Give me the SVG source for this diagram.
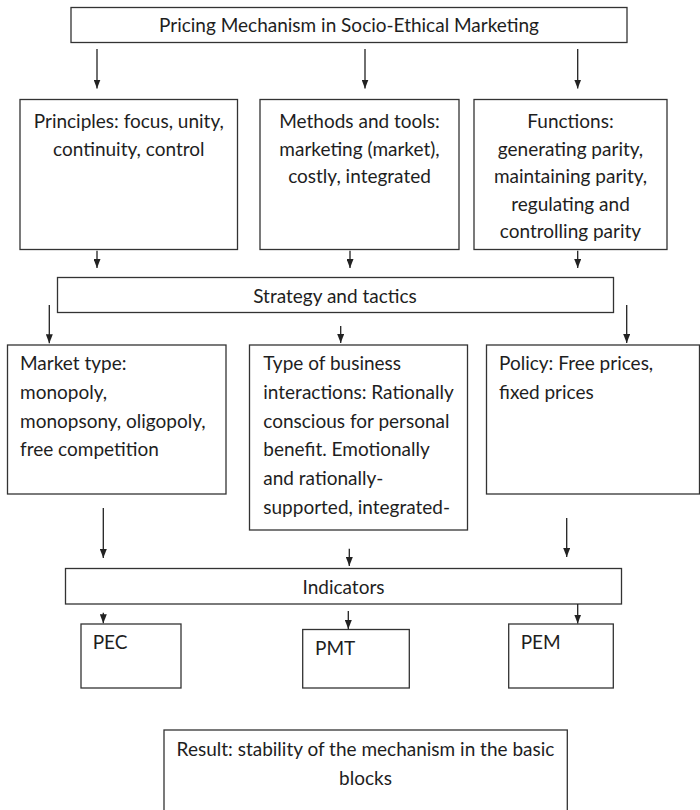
<svg xmlns="http://www.w3.org/2000/svg" width="700" height="810" viewBox="0 0 700 810">
<style>
.box{fill:#fff;stroke:#333;stroke-width:1.3}
.t{font-family:Lato,"Liberation Sans",sans-serif;font-size:19px;fill:#1e1e1e}
.c{text-anchor:middle}
.ar{stroke:#222;stroke-width:1.3;fill:none;marker-end:url(#ah)}
</style>
<defs>
<marker id="ah" viewBox="0 0 9 7" refX="9" refY="3.5" markerWidth="9" markerHeight="7" markerUnits="userSpaceOnUse" orient="auto">
<path d="M0,0 L9,3.5 L0,7 z" fill="#222"/>
</marker>
</defs>
<rect width="700" height="810" fill="#fff"/>
<g id="title">
<rect class="box" x="71" y="7.5" width="556" height="35"/>
<text class="t c" x="349" y="32">Pricing Mechanism in Socio-Ethical Marketing</text>
</g>
<g id="principles">
<rect class="box" x="20" y="99.5" width="217.5" height="150"/>
<text class="t c" x="128.8" y="128">Principles: focus, unity,</text>
<text class="t c" x="128.8" y="155.5">continuity, control</text>
</g>
<g id="methods">
<rect class="box" x="260" y="99.5" width="199" height="150"/>
<text class="t c" x="359.5" y="128">Methods and tools:</text>
<text class="t c" x="359.5" y="155.5">marketing (market),</text>
<text class="t c" x="359.5" y="183">costly, integrated</text>
</g>
<g id="functions">
<rect class="box" x="474" y="99.5" width="193" height="150"/>
<text class="t c" x="570.5" y="128">Functions:</text>
<text class="t c" x="570.5" y="155.5">generating parity,</text>
<text class="t c" x="570.5" y="183">maintaining parity,</text>
<text class="t c" x="570.5" y="210.5">regulating and</text>
<text class="t c" x="570.5" y="238">controlling parity</text>
</g>
<g id="strategy">
<rect class="box" x="57.5" y="277.5" width="556" height="35"/>
<text class="t c" x="335" y="302.5">Strategy and tactics</text>
</g>
<g id="market">
<rect class="box" x="7.5" y="345" width="218.5" height="149"/>
<text class="t" x="20" y="370">Market type:</text>
<text class="t" x="20" y="398.8">monopoly,</text>
<text class="t" x="20" y="427.6">monopsony, oligopoly,</text>
<text class="t" x="20" y="456.4">free competition</text>
</g>
<g id="business">
<rect class="box" x="249.5" y="345" width="218" height="185"/>
<text class="t" x="263.3" y="370">Type of business</text>
<text class="t" x="263.3" y="398.8">interactions: Rationally</text>
<text class="t" x="263.3" y="427.6">conscious for personal</text>
<text class="t" x="263.3" y="456.4">benefit. Emotionally</text>
<text class="t" x="263.3" y="485.2">and rationally-</text>
<text class="t" x="263.3" y="514">supported, integrated-</text>
</g>
<g id="policy">
<rect class="box" x="486.5" y="345" width="213" height="149"/>
<text class="t" x="499" y="370">Policy: Free prices,</text>
<text class="t" x="499" y="398.8">fixed prices</text>
</g>
<g id="indicators">
<rect class="box" x="65.5" y="568.5" width="556" height="35.5"/>
<text class="t c" x="343.5" y="594">Indicators</text>
</g>
<g id="pec">
<rect class="box" x="81" y="624" width="100" height="64"/>
<text class="t" x="92.7" y="649.3">PEC</text>
</g>
<g id="pmt">
<rect class="box" x="302.7" y="629.5" width="106.6" height="58.5"/>
<text class="t" x="315" y="655">PMT</text>
</g>
<g id="pem">
<rect class="box" x="508.7" y="624" width="104.6" height="64"/>
<text class="t" x="520.7" y="649.3">PEM</text>
</g>
<g id="result">
<rect class="box" x="164" y="730" width="403.3" height="90"/>
<text class="t c" x="365.5" y="756">Result: stability of the mechanism in the basic</text>
<text class="t c" x="365.5" y="785">blocks</text>
</g>
<g id="connectors">
<line class="ar" x1="97" y1="49" x2="97" y2="88.5"/>
<line class="ar" x1="365" y1="49" x2="365" y2="88.5"/>
<line class="ar" x1="577.7" y1="49" x2="577.7" y2="88.5"/>
<line class="ar" x1="97" y1="250.7" x2="97" y2="268"/>
<line class="ar" x1="350" y1="250.7" x2="350" y2="268"/>
<line class="ar" x1="577.7" y1="250.7" x2="577.7" y2="268"/>
<line class="ar" x1="49.3" y1="305" x2="49.3" y2="343.3"/>
<line class="ar" x1="340.7" y1="326" x2="340.7" y2="343"/>
<line class="ar" x1="626.7" y1="305" x2="626.7" y2="343"/>
<line class="ar" x1="103.3" y1="508" x2="103.3" y2="558"/>
<line class="ar" x1="349.3" y1="548.7" x2="349.3" y2="566"/>
<line class="ar" x1="566.7" y1="518" x2="566.7" y2="557"/>
<line class="ar" x1="103.3" y1="612.7" x2="103.3" y2="623.3"/>
<line class="ar" x1="348.3" y1="611" x2="348.3" y2="629"/>
<line class="ar" x1="577.7" y1="604" x2="577.7" y2="623.5"/>
</g>
</svg>
